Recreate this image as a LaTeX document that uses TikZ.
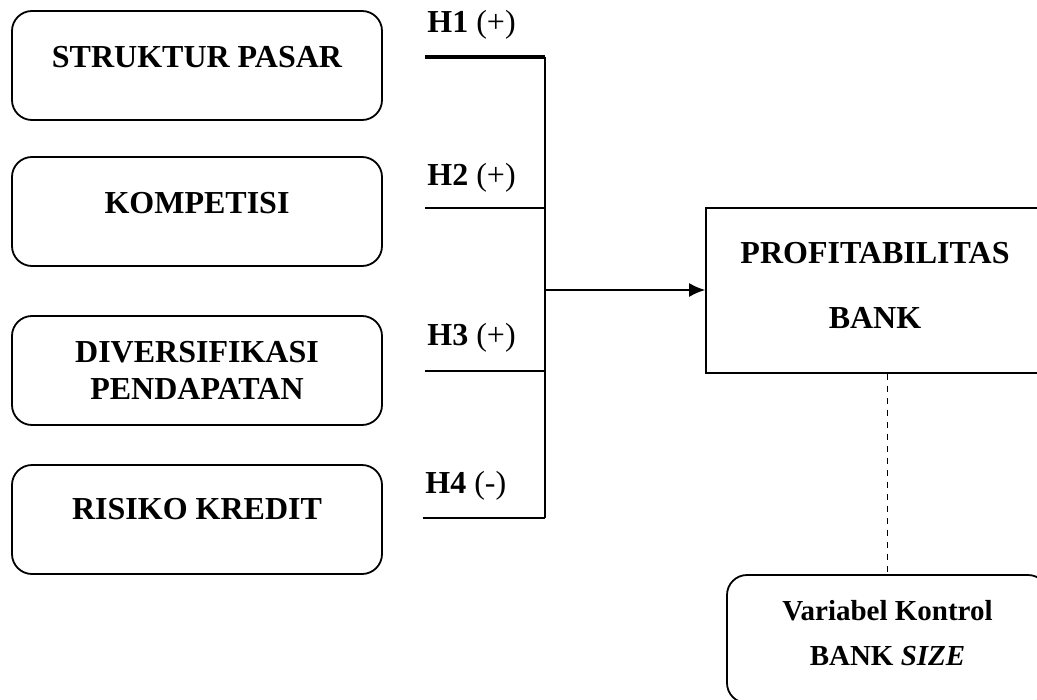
\documentclass[tikz,border=0pt]{standalone}
\usepackage{fontspec}
\setmainfont{Liberation Serif}
\usetikzlibrary{arrows.meta}

\begin{document}
\begin{tikzpicture}[x=0.5pt,y=-0.5pt,
		kotak/.style = {draw, line width=0.9pt, rounded corners=10pt, minimum width=185pt, minimum height=54.5pt, align=center, font=\fontsize{16}{18.75}\selectfont\bfseries},
		hipo/.style = {anchor=base west, inner sep=0pt, font=\fontsize{16}{18}\selectfont}]
		\useasboundingbox (0,0) rectangle (1037,700);
		
		\node[kotak, text depth=8.5pt] (SP) at (197,65.5) {STRUKTUR PASAR};
		\node[kotak, text depth=8.5pt] (KO) at (197,211.5) {KOMPETISI};
		\node[kotak] (DP) at (197,370.5) {DIVERSIFIKASI\\PENDAPATAN};
		\node[kotak, text depth=11pt] (RK) at (197,519.5) {RISIKO KREDIT};
		
		\node[draw, line width=0.9pt, minimum width=169pt, minimum height=82.5pt, align=center, text depth=5pt,
			font=\fontsize{16}{32.5}\selectfont\bfseries] (PB) at (875,290.5) {PROFITABILITAS\\BANK};
		\node[draw, line width=0.9pt, rounded corners=10pt, minimum width=160.5pt, minimum height=64pt, align=center, text depth=6pt,
			font=\fontsize{14.5}{22.5}\selectfont\bfseries] (VK) at (887.5,639) {Variabel Kontrol\\BANK \textit{SIZE}};
		
		\node[hipo] (L1) at (427,33) {\textbf{H1} (+)};
		\node[hipo] (L2) at (427,185) {\textbf{H2} (+)};
		\node[hipo] (L3) at (427,345) {\textbf{H3} (+)};
		\node[hipo] (L4) at (425,493) {\textbf{H4} (-)};
		
		\coordinate (A1) at (425,57);
		\coordinate (A2) at (425,208);
		\coordinate (A3) at (425,371);
		\coordinate (A4) at (423,518);
		\coordinate (T1) at (545,57);
		\coordinate (T2) at (545,208);
		\coordinate (T3) at (545,371);
		\coordinate (T4) at (545,518);
		\coordinate (M) at (545,290);
		
		\draw[line width=2pt] (A1) -- (T1);
		\draw[line width=0.8pt] (A2) -- (T2);
		\draw[line width=0.8pt] (A3) -- (T3);
		\draw[line width=0.8pt] (A4) -- (T4);
		\draw[line width=0.8pt] (T1) -- (T4);
		\draw[line width=0.8pt, -{Latex[length=8pt,width=7pt]}] (M) -- (PB.west |- M);
		\draw[line width=0.6pt, dashed] (PB.south -| VK.north) -- (VK.north);
	\end{tikzpicture}
\end{document}
